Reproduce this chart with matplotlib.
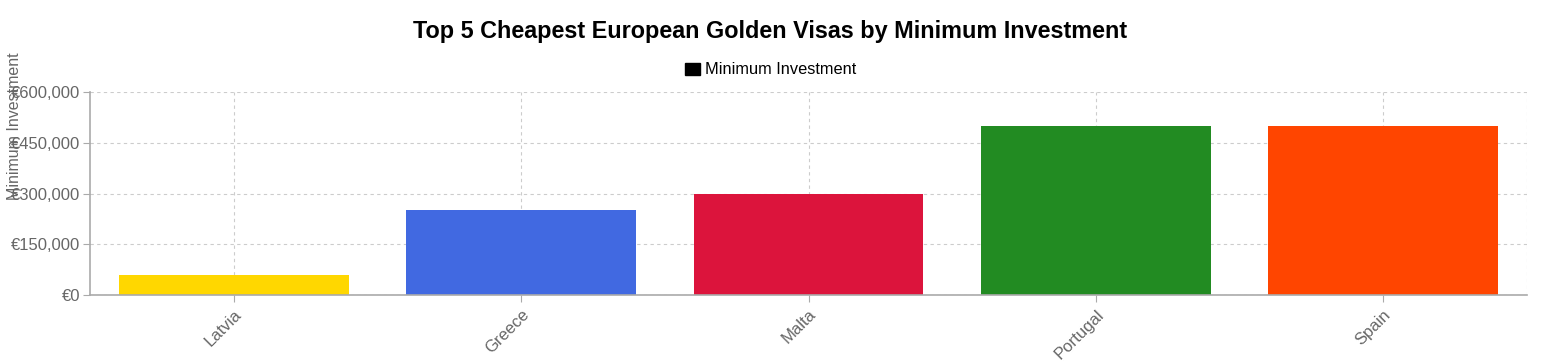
import matplotlib
matplotlib.use("Agg")
import matplotlib.pyplot as plt
from matplotlib.patches import Patch
from matplotlib.ticker import FuncFormatter

countries = ["Latvia", "Greece", "Malta", "Portugal", "Spain"]
investment = [60000, 250000, 300000, 500000, 500000]
colors = ["#FFD700", "#4169E1", "#DC143C", "#228B22", "#FF4500"]
yticks = [0, 150000, 300000, 450000, 600000]

plt.rcParams["font.family"] = ["Liberation Sans", "DejaVu Sans"]

fig = plt.figure(figsize=(15.41, 3.62), dpi=100)
ax = fig.add_axes([90 / 1541, 1 - 295 / 362, (1527 - 90) / 1541, (295 - 92) / 362])

x = range(len(countries))
ax.bar(x, investment, width=0.8, color=colors, zorder=2)

ax.set_xlim(-0.5, len(countries) - 0.5)
ax.set_ylim(0, 600000)
ax.set_yticks(yticks)
ax.yaxis.set_major_formatter(FuncFormatter(lambda v, p: "€{:,.0f}".format(v)))
ax.set_xticks(list(x))
ax.set_xticklabels(countries, rotation=45, ha="right", rotation_mode="anchor")

ax.grid(True, linestyle=(0, (3, 3)), color="#cccccc", linewidth=0.8, zorder=0)
for side in ["top", "right"]:
    ax.spines[side].set_visible(False)
ax.axvline(len(countries) - 0.5, linestyle=(0, (3, 3)), color="#cccccc", linewidth=0.8, zorder=0)
for side in ["left", "bottom"]:
    ax.spines[side].set_color("#aaaaaa")
    ax.spines[side].set_linewidth(1.2)
ax.tick_params(axis="both", colors="#aaaaaa", labelcolor="#666666", labelsize=12, length=5)
ax.tick_params(axis="y", pad=2)

fig.text(15 / 1541, 1 - 200 / 362, "Minimum Investment", rotation=90, color="#666666",
         fontsize=11.5, ha="center", va="bottom")

fig.suptitle("Top 5 Cheapest European Golden Visas by Minimum Investment",
             fontsize=16.8, fontweight="bold", y=1 - 20 / 362)

handles = [Patch(facecolor="black", edgecolor="black")]
fig.legend(handles, ["Minimum Investment"], loc="center", bbox_to_anchor=(0.5, 1 - 70 / 362),
           frameon=False, fontsize=11.8, handlelength=0.9, handleheight=0.7, handletextpad=0.3)

fig.savefig("out.png", dpi=100)
